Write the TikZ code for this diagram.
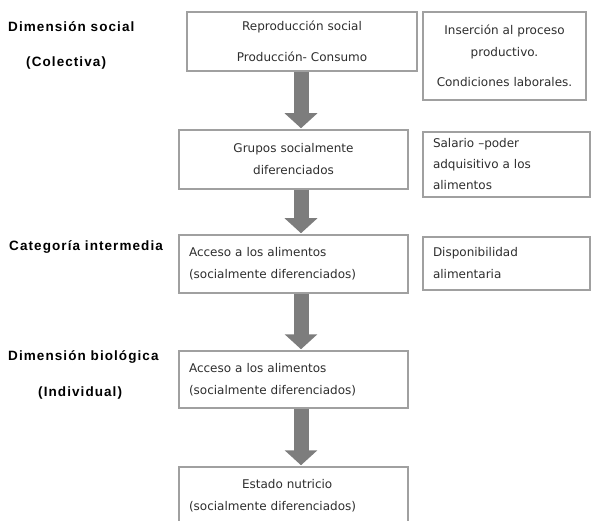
\documentclass[tikz,border=0pt]{standalone}
\usepackage{fontspec}
\setmainfont{DejaVu Sans}
\newfontfamily\labelfont[LetterSpace=8]{Liberation Sans}
\usepackage{tikz}
\usetikzlibrary{arrows.meta}
\definecolor{boxgray}{RGB}{160,160,160}
\definecolor{arrowgray}{RGB}{125,125,125}
\definecolor{textgray}{RGB}{45,45,45}

\begin{document}
\begin{tikzpicture}[x=1pt,y=-1pt,
        box/.style = {draw=boxgray,
        line width=1.5pt,
        inner xsep=10pt, inner ysep=0pt,
        text=textgray,
        font=\fontsize{12}{22}\selectfont},
        dim/.style = {anchor=west, inner sep=0pt,
        font=\labelfont\bfseries\fontsize{13.5}{16}\selectfont},
        flow/.style = {draw=arrowgray, line width=15pt,
        shorten >=1pt,
        -{Triangle[width=32pt,length=15pt]}}]

        \useasboundingbox (0,0) rectangle (591,521);

        % Left labels
        \node[dim] (dsoc) at (8,27) {Dimensión social};
        \node[dim] (colec) at (26,63) {(Colectiva)};
        \node[dim] (cat) at (9,247) {Categoría intermedia};
        \node[dim] (dbio) at (8,357) {Dimensión biológica};
        \node[dim] (indiv) at (38,393) {(Individual)};

        % Main column
        \node[box, text width=210pt, minimum height=59pt, align=center] (b1) at (302,41.5)
            {Reproducción social\\[9pt]Producción- Consumo};
        \node[box, text width=209pt, minimum height=59pt, align=center] (b2) at (293.5,159.5)
            {Grupos socialmente\\diferenciados};
        \node[box, text width=209pt, minimum height=58pt, align=left] (b3) at (293.5,264)
            {Acceso a los alimentos\\(socialmente diferenciados)};
        \node[box, text width=209pt, minimum height=57pt, align=left] (b4) at (293.5,379.5)
            {Acceso a los alimentos\\(socialmente diferenciados)};
        \node[box, text width=209pt, minimum height=58pt, align=left] (b5) at (293.5,496)
            {\hspace*{53pt}Estado nutricio\\(socialmente diferenciados)};

        % Right column
        \node[box, text width=143pt, minimum height=88pt, align=center] (r1) at (504.5,56)
            {Inserción al proceso\\productivo.\\[8pt]Condiciones laborales.};
        \node[box, text width=147pt, minimum height=65pt, align=left, font=\fontsize{12}{21}\selectfont] (r2) at (506.5,164.5)
            {Salario --poder\\adquisitivo a los\\alimentos};
        \node[box, text width=147pt, minimum height=53pt, align=left] (r3) at (506.5,263.5)
            {Disponibilidad\\alimentaria};

        % Arrows
        \coordinate (ax) at (301,0);
        \draw[flow] (ax |- b1.south) -- (ax |- b2.north);
        \draw[flow] (ax |- b2.south) -- (ax |- b3.north);
        \draw[flow] (ax |- b3.south) -- (ax |- b4.north);
        \draw[flow] (ax |- b4.south) -- (ax |- b5.north);

    \end{tikzpicture}
\end{document}
